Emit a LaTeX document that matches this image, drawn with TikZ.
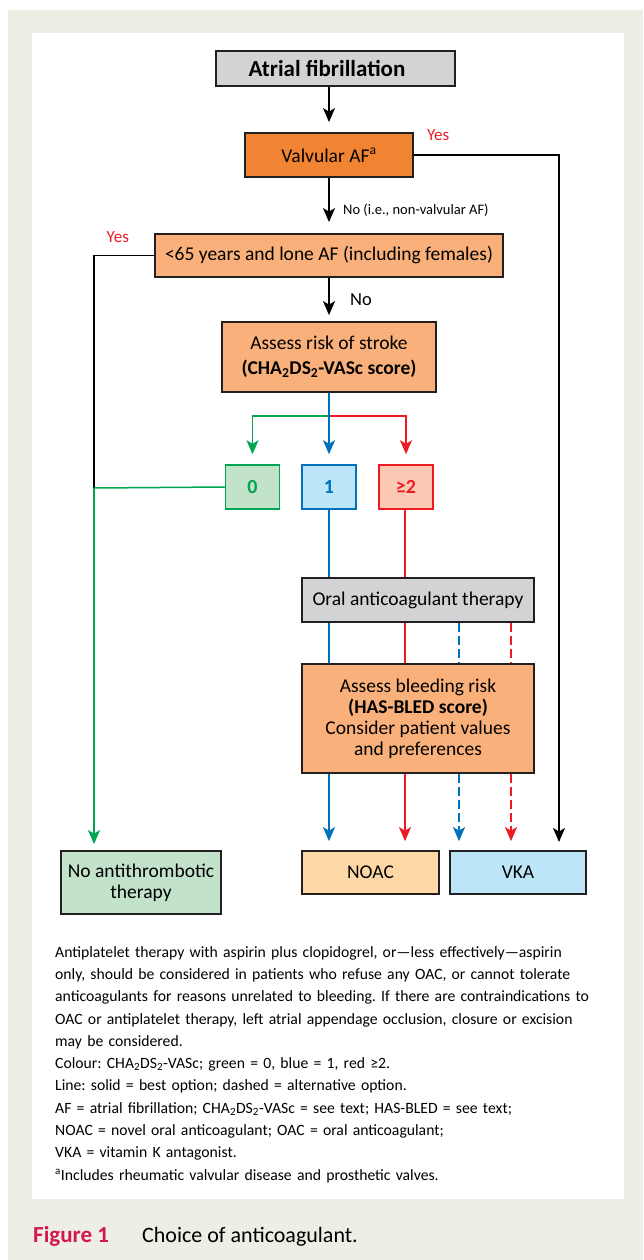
\documentclass[tikz,border=0pt]{standalone}
\usepackage{fontspec}
\setmainfont{Carlito}
\usetikzlibrary{arrows.meta}
\definecolor{beige}{HTML}{EFEEE4}
\definecolor{ink}{HTML}{231F20}
\definecolor{boxgray}{HTML}{D1D3D4}
\definecolor{orgdark}{HTML}{F18432}
\definecolor{orglight}{HTML}{F9B07A}
\definecolor{gline}{HTML}{00A651}
\definecolor{gfill}{HTML}{C2E2CA}
\definecolor{bline}{HTML}{0072BC}
\definecolor{bfill}{HTML}{BDE5F8}
\definecolor{rline}{HTML}{ED1C24}
\definecolor{rfill}{HTML}{FBC8B4}
\definecolor{noacfill}{HTML}{FDD8A6}
\definecolor{crimson}{HTML}{D2194B}
\frenchspacing
\begin{document}
\begin{tikzpicture}[x=1pt,y=-1pt,
  box/.style={draw=ink,line width=1.8pt,inner sep=0pt,align=center,font=\fontsize{19.5}{21}\selectfont},
  score/.style={line width=1.5pt,inner sep=0pt,minimum width=54pt,minimum height=44pt,font=\bfseries\fontsize{20}{22}\selectfont},
  conn/.style={line width=1.5pt},
  arr/.style={conn,-{Stealth[length=14pt,width=12pt,inset=3.5pt]},shorten >=9pt},
  lbl/.style={inner sep=0pt,font=\fontsize{17}{19}\selectfont},
  dsh/.style={dash pattern=on 9pt off 4pt}]
\useasboundingbox (0,0) rectangle (643,1260);
\fill[beige] (8,10) rectangle (643,1260);
\fill[white] (32,33) rectangle (624,1199);

% boxes
\node[box,fill=boxgray,minimum width=239pt,minimum height=35pt,font=\bfseries\fontsize{23}{25}\selectfont] (af) at (335.5,68.5) {Atrial fibrillation\hspace*{17pt}};
\node[box,fill=orgdark,minimum width=168pt,minimum height=44pt] (valv) at (329,155) {Valvular AF\textsuperscript{a}};
\node[box,fill=orglight,minimum width=348pt,minimum height=43pt] (young) at (329,255.5) {<65 years and lone AF (including females)};
\node[box,fill=orglight,minimum width=214pt,minimum height=70pt,font=\fontsize{19.5}{25}\selectfont] (stroke) at (329,357) {Assess risk of stroke\\\textbf{(CHA\textsubscript{2}DS\textsubscript{2}-VASc score)}};
\node[score,draw=gline,fill=gfill,text=gline] (s0) at (252.5,487) {0};
\node[score,draw=bline,fill=bfill,text=bline] (s1) at (329,487) {1};
\node[score,draw=rline,fill=rfill,text=rline] (s2) at (406,487) {≥2};
\node[box,fill=boxgray,minimum width=232pt,minimum height=44pt] (oac) at (418,600) {Oral anticoagulant therapy};
\node[box,fill=orglight,minimum width=232pt,minimum height=109pt] (bleed) at (418,718.5) {Assess bleeding risk\\\textbf{(HAS-BLED score)}\\Consider patient values\\and preferences};
\node[box,fill=gfill,minimum width=160pt,minimum height=63pt] (noat) at (141,882.5) {No antithrombotic\\therapy};
\node[box,fill=noacfill,minimum width=137pt,minimum height=43pt] (noac) at (370.5,872.5) {NOAC};
\node[box,fill=bfill,minimum width=136pt,minimum height=43pt] (vka) at (518,872.5) {VKA};

% labels
\node[lbl,text=rline,anchor=west] at ([xshift=13pt,yshift=-3pt]valv.north east) {Yes};
\node[lbl,text=rline,anchor=east] at ([xshift=-25pt,yshift=-4pt]young.north west) {Yes};
\node[inner sep=0pt,anchor=west,font=\fontsize{14.5}{16}\selectfont] at ([xshift=14pt,yshift=-32pt]valv.south) {No (i.e., non-valvular AF)};
\node[lbl,anchor=west,font=\fontsize{18.5}{20}\selectfont] at ([xshift=21pt,yshift=-22pt]young.south) {No};

% helper coordinates
\coordinate (split) at (329,416);
\coordinate (gj) at (94,488);
\coordinate (vkin) at (559,851);
\coordinate (db) at (459,0);
\coordinate (dr) at (511,0);
\coordinate (rs) at (405,0);

% main flow
\draw[arr,shorten >=10pt] (valv.north |- af.south) -- (valv.north);
\draw[arr,shorten >=11pt] (valv.south) -- (young.north);
\draw[arr,shorten >=6pt] (young.south) -- (stroke.north);
\draw[arr] (valv.east) -| (vkin);
\draw[conn] (young.west) -| (gj);

% scores
\draw[arr,gline,shorten >=10pt] (split) -| (s0.north);
\draw[arr,rline,shorten >=10pt] (split) -| (s2.north);
\draw[arr,bline,shorten >=10pt] (stroke.south) -- (s1.north);
\draw[conn,gline] (s0.west) -- (gj);
\draw[arr,gline,shorten >=6pt] (gj) -- (gj |- noat.north);

% blue solid
\draw[conn,bline] (s1.south) -- (s1.south |- oac.north);
\draw[conn,bline] (s1.south |- oac.south) -- (s1.south |- bleed.north);
\draw[arr,bline] (s1.south |- bleed.south) -- (s1.south |- noac.north);
% red solid
\draw[conn,rline] (rs |- s2.south) -- (rs |- oac.north);
\draw[conn,rline] (rs |- oac.south) -- (rs |- bleed.north);
\draw[arr,rline] (rs |- bleed.south) -- (rs |- noac.north);
% dashed alternatives
\draw[conn,bline,dsh] (db |- oac.south) -- (db |- bleed.north);
\draw[arr,bline,dsh] (db |- bleed.south) -- (db |- vka.north);
\draw[conn,rline,dsh] (dr |- oac.south) -- (dr |- bleed.north);
\draw[arr,rline,dsh] (dr |- bleed.south) -- (dr |- vka.north);

% footnote
\node[anchor=north west,inner sep=0pt,text width=570pt,align=left,font=\fontsize{15.7}{22.3}\selectfont] (notes) at (55,946) {Antiplatelet therapy with aspirin plus clopidogrel, or—less effectively—aspirin\\
only, should be considered in patients who refuse any OAC, or cannot tolerate\\
anticoagulants for reasons unrelated to bleeding. If there are contraindications to\\
OAC or antiplatelet therapy, left atrial appendage occlusion, closure or excision\\
may be considered.\\
Colour: CHA\textsubscript{2}DS\textsubscript{2}-VASc; green = 0, blue = 1, red ≥2.\\
Line: solid = best option; dashed = alternative option.\\
AF = atrial fibrillation; CHA\textsubscript{2}DS\textsubscript{2}-VASc = see text; HAS-BLED = see text;\\
NOAC = novel oral anticoagulant; OAC = oral anticoagulant;\\
VKA = vitamin K antagonist.\\
\textsuperscript{a}Includes rheumatic valvular disease and prosthetic valves.};

% caption
\node[anchor=base west,inner sep=0pt,text=crimson,font=\bfseries\fontsize{23}{25}\selectfont] (fig) at (33,1242) {Figure 1};
\node[anchor=base west,inner sep=0pt,font=\fontsize{22}{24}\selectfont] (cap) at (142,1242) {Choice of anticoagulant.};
\end{tikzpicture}
\end{document}
